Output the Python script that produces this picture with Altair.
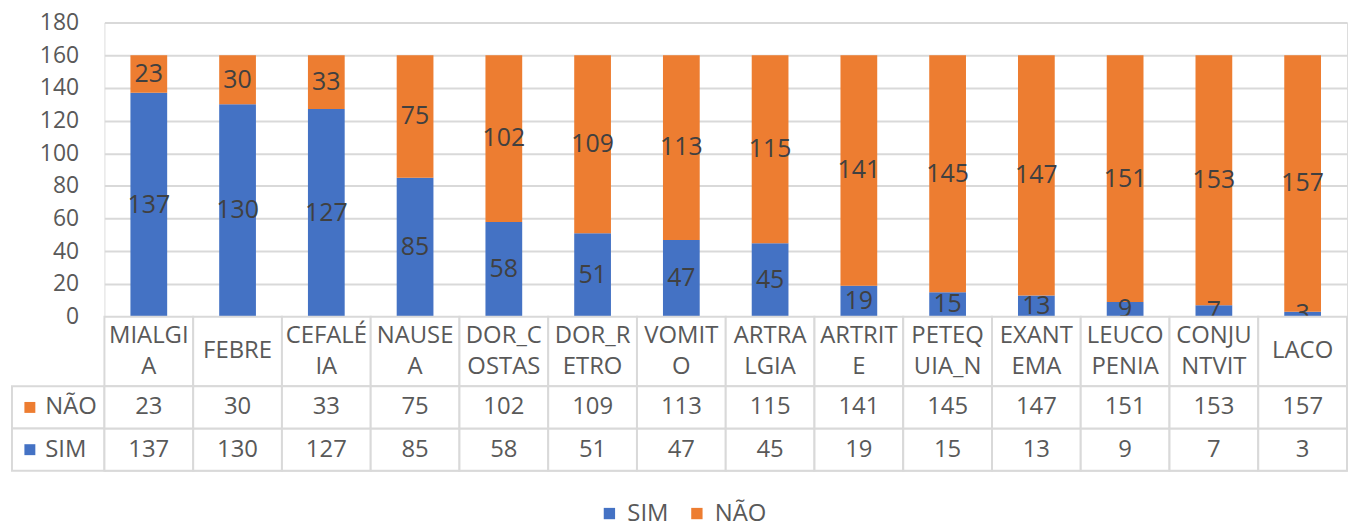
import altair as alt
import pandas as pd

categories = ["MIALGIA", "FEBRE", "CEFALÉIA", "NAUSEA", "DOR_COSTAS", "DOR_RETRO", "VOMITO",
              "ARTRALGIA", "ARTRITE", "PETEQUIA_N", "EXANTEMA", "LEUCOPENIA", "CONJUNTVIT", "LACO"]
header_labels = ["MIALGI\nA", "FEBRE", "CEFALÉ\nIA", "NAUSE\nA", "DOR_C\nOSTAS", "DOR_R\nETRO", "VOMIT\nO",
                 "ARTRA\nLGIA", "ARTRIT\nE", "PETEQ\nUIA_N", "EXANT\nEMA", "LEUCO\nPENIA", "CONJU\nNTVIT", "LACO"]
sim = [137, 130, 127, 85, 58, 51, 47, 45, 19, 15, 13, 9, 7, 3]
nao = [23, 30, 33, 75, 102, 109, 113, 115, 141, 145, 147, 151, 153, 157]
series = ["SIM", "NÃO"]
table_rows = ["NÃO", "SIM"]
colors = ["#4472C4", "#ED7D31"]
y_ticks = list(range(0, 181, 20))

FONT = "Open Sans"
GRAY = "#595959"
LINE = "#d9d9d9"
FS = 24
W = 1250

rows = []
for c, s, n in zip(categories, sim, nao):
    rows.append({"cat": c, "series": "SIM", "value": s, "ord": 0})
    rows.append({"cat": c, "series": "NÃO", "value": n, "ord": 1})
df = pd.DataFrame(rows)
hdf = pd.DataFrame({"cat": categories, "label": header_labels})
rdf = pd.DataFrame({"series": table_rows})

color_scale = alt.Scale(domain=series, range=colors)
bar_x = alt.X("cat:N", sort=categories, axis=None,
              scale=alt.Scale(domain=categories, paddingInner=0.586, paddingOuter=0.293))
yscale = alt.Scale(domain=[0, 180], nice=False)
yaxis = alt.Axis(values=y_ticks, title=None, domain=False, ticks=False,
                 labelColor=GRAY, labelFontSize=23, labelPadding=26,
                 labelOverlap=False, labelFlush=False, labelBound=False,
                 gridColor=LINE, gridWidth=2)

bars = alt.Chart(df).mark_bar().encode(
    x=bar_x,
    y=alt.Y("value:Q", stack="zero", scale=yscale, axis=yaxis),
    color=alt.Color("series:N", scale=color_scale,
                    legend=alt.Legend(title=None, orient="none", direction="horizontal",
                                      legendX=496, legendY=482,
                                      symbolType="square", symbolSize=130, symbolStrokeWidth=0,
                                      labelFontSize=FS, labelColor=GRAY, columnPadding=16,
                                      labelOffset=6)),
    order=alt.Order("ord:Q"),
)

bar_labels = alt.Chart(df).transform_stack(
    stack="value", groupby=["cat"], sort=[alt.SortField("ord")], as_=["y0", "y1"]
).transform_calculate(
    mid="(datum.y0 + datum.y1) / 2"
).mark_text(fontSize=25, color="#404040", baseline="middle").encode(
    x=bar_x,
    y=alt.Y("mid:Q", scale=yscale, axis=yaxis),
    text=alt.Text("value:Q"),
)

top = alt.layer(bars, bar_labels).properties(width=W, height=296)

tab_x = alt.X("cat:N", sort=categories, axis=None, scale=alt.Scale(domain=categories, padding=0))

header_cells = alt.Chart(hdf).mark_rect(fill="white", stroke=LINE, strokeWidth=2).encode(x=tab_x)
header_one = alt.Chart(hdf).transform_filter(
    "indexof(datum.label, '\\n') < 0"
).mark_text(fontSize=FS, color=GRAY, baseline="middle").encode(
    x=tab_x, y=alt.value(35), text="label:N")
header_two = alt.Chart(hdf).transform_filter(
    "indexof(datum.label, '\\n') >= 0"
).mark_text(lineBreak="\n", lineHeight=32, fontSize=FS, color=GRAY, baseline="middle", dy=-16).encode(
    x=tab_x, y=alt.value(35), text="label:N")
header = alt.layer(header_cells, header_one, header_two).properties(width=W, height=70)

tab_y = alt.Y("series:N", sort=table_rows, scale=alt.Scale(domain=table_rows, padding=0),
              axis=alt.Axis(title=None, domain=False, ticks=False, labelAlign="left",
                            labelPadding=60, labelFontSize=FS, labelColor=GRAY, zindex=1))

label_cells = alt.Chart(rdf).mark_rect(fill="white", stroke=LINE, strokeWidth=2).encode(
    x=alt.value(-93), x2=alt.value(0), y=tab_y)
value_cells = alt.Chart(df).mark_rect(fill="white", stroke=LINE, strokeWidth=2).encode(
    x=tab_x, y=tab_y)
squares = alt.Chart(rdf).mark_point(shape="square", filled=True, size=121, opacity=1).encode(
    x=alt.value(-75), y=tab_y, color=alt.Color("series:N", scale=color_scale))
value_text = alt.Chart(df).mark_text(fontSize=FS, color=GRAY, baseline="middle").encode(
    x=tab_x, y=tab_y, text="value:Q")
values = alt.layer(label_cells, value_cells, squares, value_text).properties(width=W, height=85)

chart = alt.vconcat(top, header, values, spacing=0, bounds="flush").resolve_scale(
    x="independent", y="independent", color="shared"
).properties(
    padding={"left": 2, "top": 1, "right": 0, "bottom": 4}
).configure_view(stroke=None).configure(font=FONT)

chart.save("out.html", embed_options={"renderer": "svg", "actions": False})
